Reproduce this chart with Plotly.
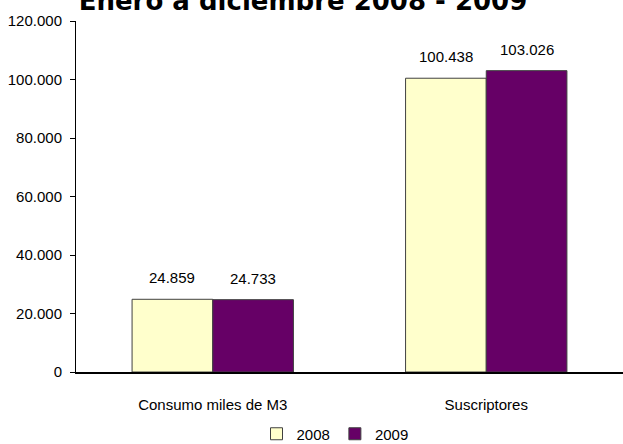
import plotly.graph_objects as go

categories = ["Consumo miles de M3", "Suscriptores"]
series_names = ["2008", "2009"]
values_2008 = [24859, 100438]
values_2009 = [24733, 103026]
tick_vals = [0, 20000, 40000, 60000, 80000, 100000, 120000]
title_text = "Enero a diciembre 2008 - 2009"

FONT = "Liberation Sans, Arial, sans-serif"
colors = ["#FFFFCC", "#660066"]
BAR_HALF_PX = 40.5  # half of a bar's pixel width, used to centre value labels

fig = go.Figure()
for name, vals, col in zip(series_names, [values_2008, values_2009], colors):
    fig.add_trace(go.Bar(
        name=name, x=categories, y=vals,
        marker=dict(color=col, line=dict(color="#404040", width=1)),
    ))

# value labels above each bar
for i, (name, vals) in enumerate(zip(series_names, [values_2008, values_2009])):
    shift = -BAR_HALF_PX if i == 0 else BAR_HALF_PX
    for cat, v in zip(categories, vals):
        fig.add_annotation(
            x=cat, y=v, xref="x", yref="y",
            text=f"{v:,}".replace(",", "."),
            showarrow=False, xshift=shift, yshift=11,
            yanchor="bottom", xanchor="center",
            font=dict(family=FONT, size=15, color="black"),
        )

fig.update_layout(
    width=623, height=444,
    separators=",.",
    barmode="group", bargap=0.41, bargroupgap=0,
    plot_bgcolor="white", paper_bgcolor="white",
    margin=dict(l=76, r=0, t=21, b=72, autoexpand=False),
    font=dict(family=FONT, size=15, color="black"),
    title=dict(text=title_text, x=303/623, xanchor="center",
               y=1 - 10/444, yanchor="bottom", yref="container",
               font=dict(family="DejaVu Sans", size=26, color="black", weight="bold")),
    showlegend=True,
    legend=dict(orientation="h", x=335/623, xanchor="center", xref="container",
                y=1 - 434/444, yanchor="middle", yref="container",
                font=dict(family=FONT, size=15), itemwidth=30,
                traceorder="normal", tracegroupgap=0),
    xaxis=dict(showline=True, linecolor="black", linewidth=2, ticks="",
               tickfont=dict(family=FONT, size=15), ticklabelstandoff=18,
               automargin=False),
    yaxis=dict(range=[0, 120000], tickvals=tick_vals, tickformat=",.0f",
               showline=True, linecolor="black", linewidth=1,
               ticks="outside", ticklen=5, tickcolor="black",
               showgrid=False, zeroline=False, automargin=False,
               tickfont=dict(family=FONT, size=15), ticklabelstandoff=5),
)

fig.write_html("out.html", config={"displayModeBar": False},
               post_script="document.body.style.margin='0';document.body.style.padding='0';")
